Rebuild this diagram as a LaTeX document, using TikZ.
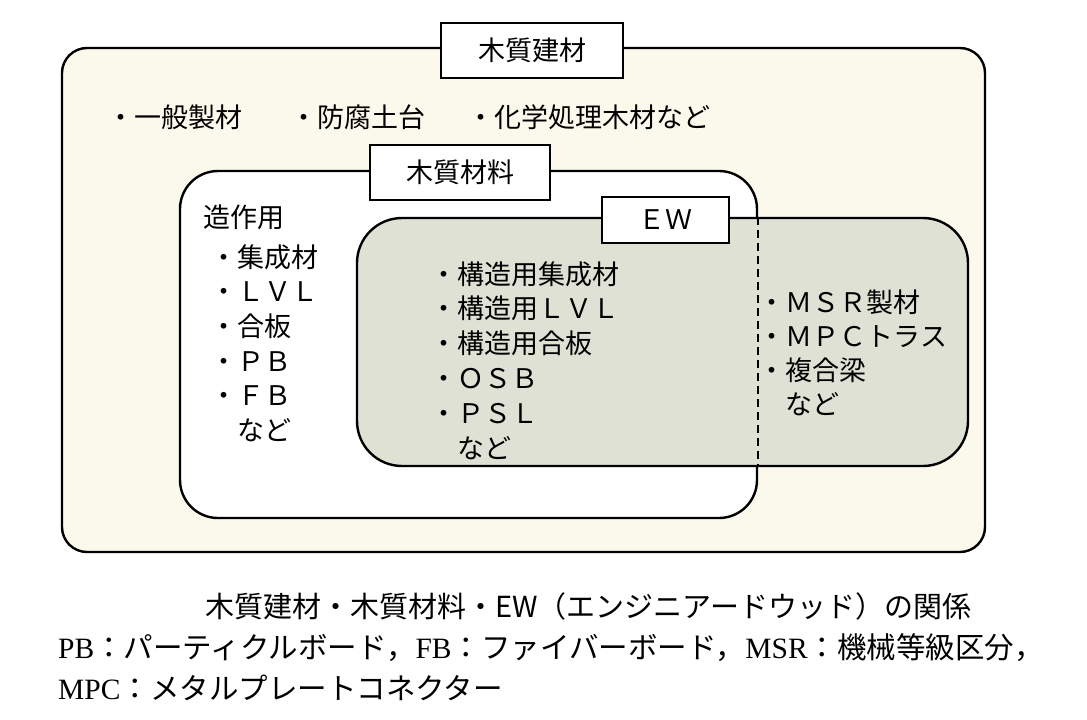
\documentclass[tikz,border=0pt]{standalone}
\usepackage{fontspec}
\setmainfont{Noto Sans CJK JP}
\newfontfamily\captionLatin{Liberation Serif}
\newcommand{\itemSize}[0]{\fontsize{27}{34.7}\selectfont}
\newcommand{\captionSize}[0]{\fontsize{29.5}{41}\selectfont}
\newcommand{\lat}[1]{{\captionLatin #1}}
\definecolor{paper}{HTML}{FBF9EC}
\definecolor{ewgray}{HTML}{E0E1D5}

\begin{document}
\begin{tikzpicture}[x=1pt, y=-1pt, line width=2.4pt]
  \tikzset{every node/.style={inner sep=0pt, font=\itemSize},
    set box/.style={draw, rounded corners=#1, anchor=center},
    name box/.style={draw, fill=white, line width=2.8pt, anchor=center},
    item line/.style={anchor=base west}}
  \useasboundingbox (0,0) rectangle (1087,720);
  \node[set box=25pt, fill=paper, minimum width=923pt, minimum height=504pt] (box-1) at (523.5,300) {};
  \node[set box=38pt, fill=white, minimum width=577pt, minimum height=347pt] (box-2) at (468.5,344.5) {};
  \node[set box=45pt, fill=ewgray, minimum width=611pt, minimum height=248pt] (box-3) at (662.5,342) {};
  \draw[line width=2pt, dash pattern=on 8pt off 5pt] (box-2.east |- box-3.north) -- (box-2.east |- box-3.south);
  \node[name box, minimum width=182pt, minimum height=55pt] (name-1) at (532,50.5) {木質建材};
  \node[name box, minimum width=180pt, minimum height=55pt] (name-2) at (460,172.5) {木質材料};
  \node[name box, minimum width=127pt, minimum height=46pt] (name-3) at (665.5,220) {ＥＷ};
  \node[item line] (wood-1) at (106.5,127) {・一般製材};
  \node[item line] (wood-2) at (289,127) {・防腐土台};
  \node[item line] (wood-3) at (466.5,127) {・化学処理木材など};
  \node[item line] (use-0) at (202,227.5) {造作用};
  \foreach \txt [count=\i] in {・集成材, ・ＬＶＬ, ・合板, ・ＰＢ, ・ＦＢ, 　など}
    \node[item line] (use-\i) at (209.5,{267+34.7*(\i-1)}) {\txt};
  \foreach \txt [count=\i] in {・構造用集成材, ・構造用ＬＶＬ, ・構造用合板, ・ＯＳＢ, ・ＰＳＬ, 　など}
    \node[item line] (ew-\i) at (429.5,{284+34.8*(\i-1)}) {\txt};
  \foreach \txt [count=\i] in {・ＭＳＲ製材, ・ＭＰＣトラス, ・複合梁, 　など}
    \node[item line] (other-\i) at (757.5,{312+34.3*(\i-1)}) {\txt};
  \node[item line, font=\fontsize{29}{41}\selectfont] (caption-1) at (204,617) {木質建材・木質材料・EW（エンジニアードウッド）の関係};
  \node[item line, font=\captionSize] (caption-2) at (57,658) {\lat{PB}：パーティクルボード，\lat{FB}：ファイバーボード，\lat{MSR}：機械等級区分，};
  \node[item line, font=\captionSize] (caption-3) at (57,699) {\lat{MPC}：メタルプレートコネクター};
\end{tikzpicture}
\end{document}
